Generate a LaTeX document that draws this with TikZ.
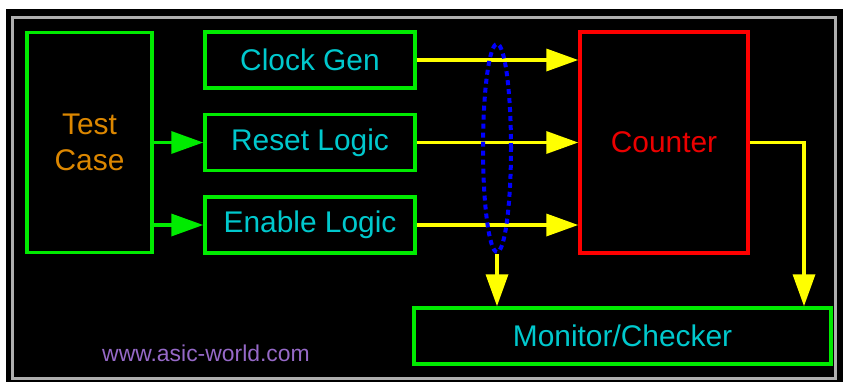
\documentclass[tikz,border=0pt]{standalone}
\usepackage{fontspec}
\setmainfont{Liberation Sans}
\usetikzlibrary{arrows.meta,shapes.geometric}

\definecolor{boxgreen}{RGB}{0,235,0}
\definecolor{labelcyan}{RGB}{0,200,205}
\definecolor{caseorange}{RGB}{220,135,0}
\definecolor{cntred}{RGB}{235,0,0}
\definecolor{wireyellow}{RGB}{255,255,0}
\definecolor{markpurple}{RGB}{150,105,200}
\definecolor{framegray}{RGB}{175,175,175}

\begin{document}
\begin{tikzpicture}[x=1bp,y=-1bp,line width=3.5bp,->,>={Triangle[length=32bp,width=22bp]},
  every node/.style={inner sep=0pt}]
  \tikzstyle{block}=[draw=boxgreen,text=labelcyan,minimum width=210bp,minimum height=56bp,
    font=\fontsize{30}{36}\selectfont]
  \tikzstyle{wire}=[wireyellow]
  \tikzstyle{stim}=[boxgreen]

  \useasboundingbox (0,0) rectangle (843,382);
  \fill[white] (0,0) rectangle (843,382);
  \fill[black] (6,9) rectangle (843,382);
  \draw[-,framegray,line width=3bp] (12.5,17) rectangle (835.5,378);

  \node[block,text=caseorange,minimum width=125bp,minimum height=220bp,align=center] (tc) at (89.5,142.5) {Test\\Case};
  \node[block] (clock) at (310,60) {Clock Gen};
  \node[block] (reset) at (310,142.5) {Reset Logic};
  \node[block] (enable) at (310,225) {Enable Logic};
  \node[block,draw=red,text=cntred,minimum width=168bp,minimum height=221bp] (counter) at (664,142.5) {Counter};
  \node[block,minimum width=417bp] (monitor) at (622.5,336) {Monitor/Checker};
  \node[text=markpurple,font=\fontsize{23}{28}\selectfont] (site) at (206,353) {www.asic-world.com};
  \coordinate (cnt out) at (804,142.5);

  \path (tc.east) edge[stim] (reset)
    (tc.east |- enable) edge[stim] (enable);
  \path (clock) edge[wire] (counter.west |- clock.east)
    (reset) edge[wire] (counter)
    (enable) edge[wire] (counter.west |- enable.east);
  \draw[wire] (counter.east) -| (cnt out |- monitor.north);

  \node[-,ellipse,draw=blue,line width=4bp,dash pattern=on 5bp off 4bp,minimum width=28bp,minimum height=208bp] (bus) at (497,148) {};
  \draw[wire] (bus.south) -- (bus.south |- monitor.north);
\end{tikzpicture}
\end{document}
